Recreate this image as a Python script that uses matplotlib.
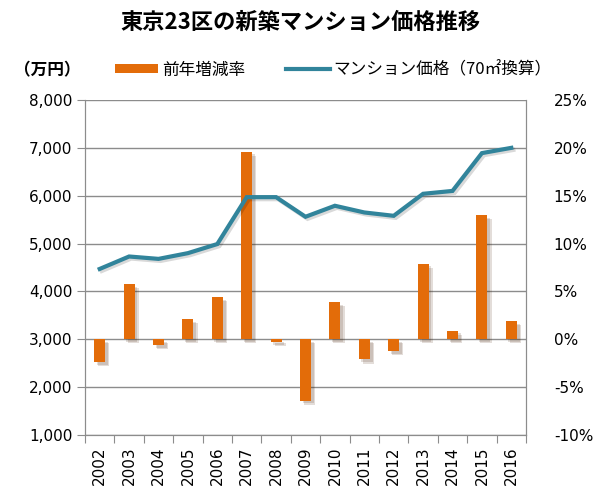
import matplotlib
matplotlib.use('Agg')
import matplotlib.pyplot as plt
import matplotlib.patheffects as pe
from matplotlib.patches import Patch
from matplotlib.lines import Line2D
from matplotlib.ticker import FuncFormatter

plt.rcParams['font.family'] = ['Noto Sans CJK JP', 'DejaVu Sans']

years = ['2002', '2003', '2004', '2005', '2006', '2007', '2008', '2009',
         '2010', '2011', '2012', '2013', '2014', '2015', '2016']
# price of a 70m2 new condo, 10k yen
price = [4470, 4730, 4680, 4800, 4990, 5970, 5970, 5560,
         5790, 5650, 5580, 6040, 6100, 6890, 7000]
# change from previous year, %
change = [-2.4, 5.8, -0.6, 2.1, 4.4, 19.6, -0.3, -6.4,
          3.9, -2.1, -1.2, 7.9, 0.9, 13.0, 1.9]

orange = '#E36C09'
teal = '#31849B'
grey = '#8C8C8C'

fig = plt.figure(figsize=(6, 5), dpi=100)
ax = fig.add_axes([85 / 600, 1 - 435 / 500, 441 / 600, 335 / 500])
ax2 = ax.twinx()
# line axis above the bar axis
ax.set_zorder(ax2.get_zorder() + 1)
ax.patch.set_visible(False)

x = list(range(len(years)))

# bars (right axis), soft shadow like the excel chart
ax2.bar(x, change, width=0.38, color=orange, zorder=3,
        path_effects=[pe.SimplePatchShadow(offset=(3, -3), alpha=0.15),
                      pe.SimplePatchShadow(offset=(2, -2), alpha=0.15),
                      pe.Normal()])
ax2.set_ylim(-10, 25)
ax2.set_yticks([-10, -5, 0, 5, 10, 15, 20, 25])
ax2.yaxis.set_major_formatter(FuncFormatter(lambda v, p: '{:.0f}%'.format(v)))
ax2.grid(axis='y', color=grey, linewidth=1, zorder=0)
ax2.set_axisbelow(True)
ax2.tick_params(axis='y', length=0, pad=20, labelsize=11)

# line (left axis)
ax.plot(x, price, color=teal, linewidth=3, solid_joinstyle='miter',
        path_effects=[pe.SimpleLineShadow(offset=(1.5, -1.5), alpha=0.15),
                      pe.Normal()])
ax.set_ylim(1000, 8000)
ax.set_yticks(range(1000, 9000, 1000))
ax.yaxis.set_major_formatter(FuncFormatter(lambda v, p: '{:,.0f}'.format(v)))
ax.tick_params(axis='y', length=6, color=grey, labelsize=11, pad=3)

ax.set_xlim(-0.5, len(years) - 0.5)
ax.set_xticks([i - 0.5 for i in range(len(years) + 1)])
ax.set_xticklabels([])
ax.set_xticks(x, minor=True)
ax.set_xticklabels(years, minor=True, rotation=90)
ax.tick_params(axis='x', which='major', length=6, color=grey)
ax.tick_params(axis='x', which='minor', length=0, labelsize=11, pad=8)

for a in (ax, ax2):
    for s in a.spines.values():
        s.set_color(grey)
    a.spines['top'].set_visible(False)

for lab in ax.get_yticklabels() + ax2.get_yticklabels() + \
        ax.get_xticklabels(minor=True):
    lab.set_family('DejaVu Sans')

fig.text(0.5, 1 - 22 / 500, '東京23区の新築マンション価格推移', ha='center', va='center',
         fontsize=16, fontweight='bold')
fig.text(14 / 600, 1 - 70 / 500, '（万円）', ha='left', va='center',
         fontsize=12, fontweight='bold')

handles = [Patch(facecolor=orange), Line2D([], [], color=teal, linewidth=3)]
fig.legend(handles, ['前年増減率', 'マンション価格（70㎡換算）'],
           loc='center left', bbox_to_anchor=(100 / 600, 1 - 70 / 500),
           ncol=2, frameon=False, fontsize=12, handlelength=2.6,
           handleheight=0.5, handletextpad=0.2, columnspacing=2.5)

fig.savefig('out.png', dpi=100)
